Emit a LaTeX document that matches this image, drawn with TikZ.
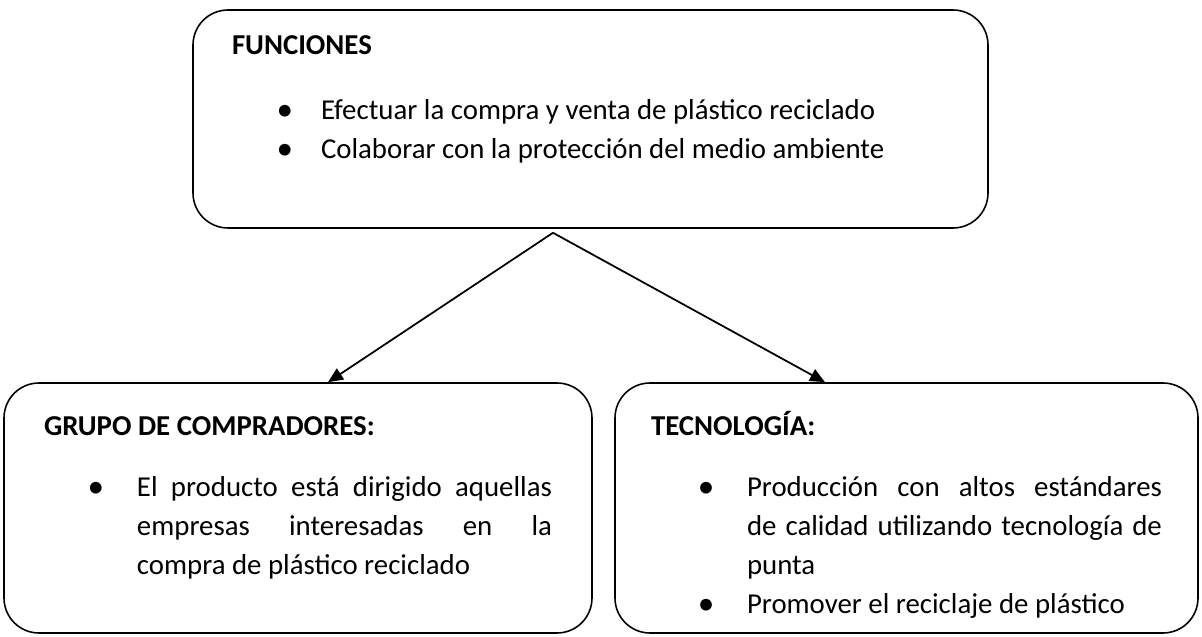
\documentclass[tikz,border=0pt]{standalone}
\usepackage{fontspec}
\setmainfont{Carlito}
\usepackage{enumitem}
\usetikzlibrary{shapes, arrows.meta}
\setlist[itemize]{label=\makebox[0pt]{\raisebox{-0.04em}{\scalebox{1.15}{\textbullet}}}, labelwidth=0pt, labelsep=0.82cm, leftmargin=1.92cm, rightmargin=-0.16cm, topsep=0.42cm, partopsep=0pt, itemsep=0pt, parsep=0pt}
\tikzstyle{bloque} = [rectangle, rounded corners=0.7cm, draw=black, line width=0.9pt, inner xsep=0.72cm, inner ysep=0.48cm, font=\fontsize{16.4}{22.3}\selectfont]
\tikzstyle{arrow} = [line width=1pt,->,>={Triangle[length=0.3cm, width=0.26cm]}]
\newcommand{\titulo}[1]{\rule{0pt}{1em}\textbf{#1}}

\begin{document}
\begin{tikzpicture}[node distance=2cm]
    \useasboundingbox (0,0) rectangle (24.04,-12.74);
    \node (funciones) [bloque, inner xsep=0.78cm, inner ysep=0.32cm] at (11.81,-2.38) {\begin{minipage}[t][3.72cm][t]{14.34cm}
        \titulo{FUNCIONES}
        \begin{itemize}[topsep=0.51cm, leftmargin=1.78cm, labelsep=0.72cm, rightmargin=0pt]
            \item Efectuar la compra y venta de plástico reciclado
            \item Colaborar con la protección del medio ambiente
        \end{itemize}
    \end{minipage}};
    \node (compradores) [bloque, inner xsep=0.8cm, below of=funciones, xshift=-5.85cm, yshift=-5.78cm] {\begin{minipage}[t][4.04cm][t]{10cm}
        \titulo{GRUPO DE COMPRADORES:}
        \begin{itemize}[leftmargin=1.86cm]
            \item El producto está dirigido aquellas\linebreak empresas interesadas en la\linebreak compra de plástico reciclado
        \end{itemize}
    \end{minipage}};
    \node (tecnologia) [bloque, below of=funciones, xshift=6.32cm, yshift=-5.78cm] {\begin{minipage}[t][4.04cm][t]{10.06cm}
        \titulo{TECNOLOGÍA:}
        \begin{itemize}
            \item Producción con altos estándares\linebreak de calidad utilizando tecnología de\linebreak punta
            \item Promover el reciclaje de plástico
        \end{itemize}
    \end{minipage}};

    \coordinate (vertice) at ([xshift=-0.75cm, yshift=-0.08cm]funciones.south);
    \coordinate (llegadaA) at ([xshift=0.6cm]compradores.north);
    \coordinate (llegadaB) at ([xshift=-1.63cm]tecnologia.north);

    \draw [arrow] (vertice) -- (llegadaA);
    \draw [arrow] (vertice) -- (llegadaB);
\end{tikzpicture}
\end{document}
